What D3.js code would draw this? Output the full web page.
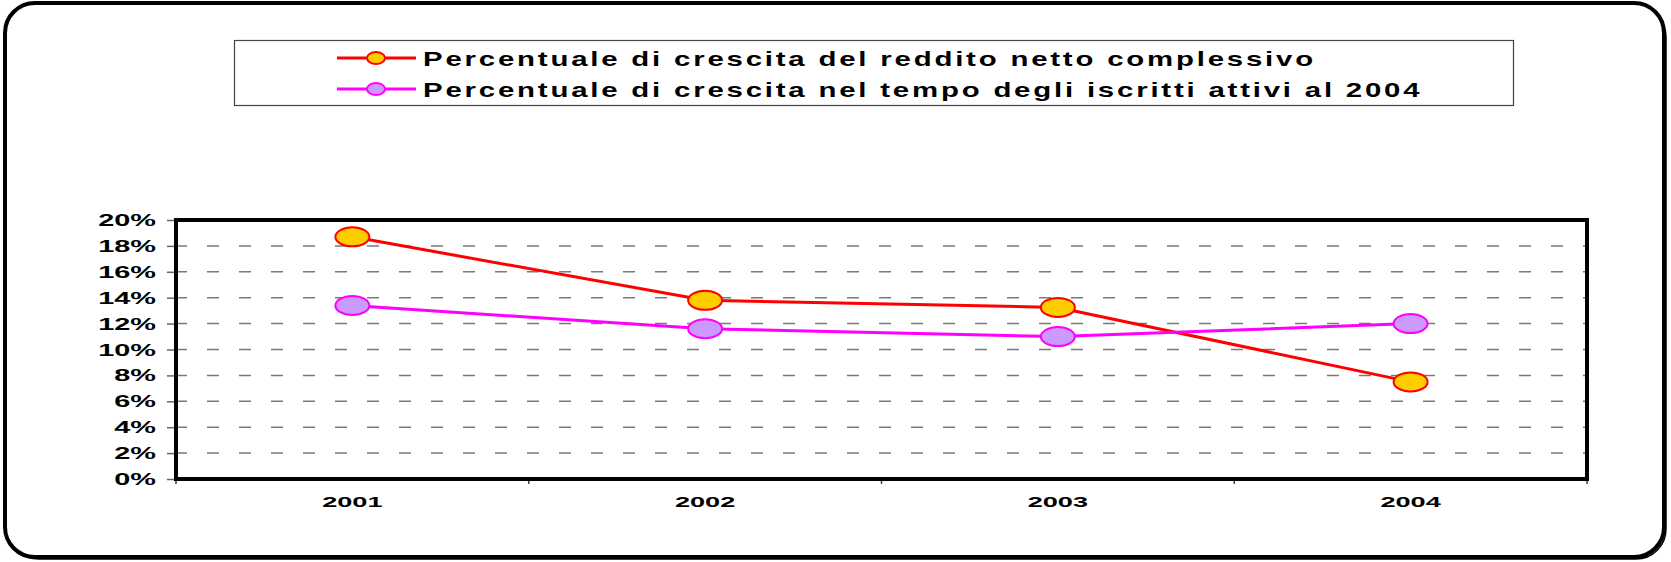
<!DOCTYPE html>
<html>
<head>
<meta charset="utf-8">
<script src="https://cdn.jsdelivr.net/npm/d3@7"></script>
<style>
  body { margin: 0; background: #fff; }
  text { font-family: "Liberation Sans", Arial, sans-serif; font-weight: bold; fill: #000; }
</style>
</head>
<body>
<svg id="chart" width="1671" height="562"></svg>
<script>
// DATA
var years = ['2001', '2002', '2003', '2004'];
var reddito = [18.7, 13.8, 13.25, 7.5];
var iscritti = [13.4, 11.6, 11.0, 12.0];
var yTicks = [0, 2, 4, 6, 8, 10, 12, 14, 16, 18, 20];
var seriesNames = ['Percentuale di crescita del reddito netto complessivo',
                   'Percentuale di crescita nel tempo degli iscritti attivi al 2004'];

// GLOBAL VARIABLES
var width = 1671;
var height = 562;
var stretch = 1.75;   // the original picture is stretched horizontally
var svg = d3.select('#chart');

var plot = { left: 176, top: 220, right: 1587, bottom: 479 };

var xScale = d3.scaleBand().domain(years).range([plot.left, plot.right]);
var yScale = d3.scaleLinear().domain([0, 20]).range([plot.bottom, plot.top]);

var series = [
  { name: seriesNames[0], values: reddito, line: '#ff0000', fill: '#ffcc00' },
  { name: seriesNames[1], values: iscritti, line: '#ff00ff', fill: '#cc99ff' }
];

// OUTER FRAME (with small shadow)
svg.append('rect')
  .attr('x', 9).attr('y', 7)
  .attr('width', width - 14).attr('height', height - 10)
  .attr('rx', 30).attr('ry', 30)
  .style('fill', 'none').style('stroke', '#000').style('stroke-width', 1.5);
svg.append('rect')
  .attr('x', 5).attr('y', 3)
  .attr('width', width - 12).attr('height', height - 8)
  .attr('rx', 30).attr('ry', 30)
  .style('fill', '#fff').style('stroke', '#000').style('stroke-width', 4);

// LEGEND
var legend = svg.append('g');
legend.append('rect')
  .attr('x', 234.5).attr('y', 40.5)
  .attr('width', 1279).attr('height', 65)
  .style('fill', '#fff').style('stroke', '#444').style('stroke-width', 1.2);

series.forEach(function(s, i) {
  var ly = 58 + i * 31;
  legend.append('line')
    .attr('x1', 337).attr('x2', 416)
    .attr('y1', ly).attr('y2', ly)
    .style('stroke', s.line).style('stroke-width', 3);
  legend.append('ellipse')
    .attr('cx', 376).attr('cy', ly)
    .attr('rx', 9).attr('ry', 6)
    .style('fill', s.fill).style('stroke', s.line).style('stroke-width', 2);
  legend.append('text')
    .text(s.name)
    .attr('transform', 'translate(423,' + (ly + 7.5) + ') scale(1.4,1)')
    .style('font-size', '21px')
    .style('letter-spacing', '2px');
});

// GRIDLINES
svg.append('g')
  .selectAll('line')
  .data(yTicks.filter(function(d) { return d > 0 && d < 20; }))
  .enter().append('line')
  .attr('x1', plot.left - 1).attr('x2', plot.right - 2)
  .attr('y1', function(d) { return yScale(d); })
  .attr('y2', function(d) { return yScale(d); })
  .style('stroke', '#7a7a7a').style('stroke-width', 1.5)
  .style('stroke-dasharray', '12,20');

// Y AXIS
var yAxis = d3.axisLeft(yScale).tickValues(yTicks).tickSize(9).tickFormat(function(d) { return ''; });
var yAxisG = svg.append('g')
  .attr('transform', 'translate(' + plot.left + ',0)')
  .call(yAxis);
yAxisG.select('.domain').remove();
yAxisG.selectAll('.tick line').style('stroke', '#666').style('stroke-width', 1.5);

svg.append('g')
  .selectAll('text')
  .data(yTicks)
  .enter().append('text')
  .text(function(d) { return d + '%'; })
  .attr('transform', function(d) {
    return 'translate(156,' + (yScale(d) + 6) + ') scale(' + stretch + ',1)';
  })
  .attr('text-anchor', 'end')
  .style('font-size', '16.5px');

// X AXIS (ticks at category boundaries)
var bounds = years.map(function(d) { return xScale(d); }).concat([plot.right]);
svg.append('g')
  .selectAll('line')
  .data(bounds)
  .enter().append('line')
  .attr('x1', function(d) { return d; }).attr('x2', function(d) { return d; })
  .attr('y1', plot.bottom).attr('y2', plot.bottom + 5)
  .style('stroke', '#444').style('stroke-width', 1.5);

svg.append('g')
  .selectAll('text')
  .data(years)
  .enter().append('text')
  .text(function(d) { return d; })
  .attr('transform', function(d) {
    return 'translate(' + (xScale(d) + xScale.bandwidth() / 2) + ',507) scale(' + stretch + ',1)';
  })
  .attr('text-anchor', 'middle')
  .style('font-size', '15.5px');

// PLOT AREA BORDER
svg.append('rect')
  .attr('x', plot.left).attr('y', plot.top)
  .attr('width', plot.right - plot.left).attr('height', plot.bottom - plot.top)
  .style('fill', 'none').style('stroke', '#000').style('stroke-width', 4);

// LINES AND MARKERS
var line = d3.line()
  .x(function(d, i) { return xScale(years[i]) + xScale.bandwidth() / 2; })
  .y(function(d) { return yScale(d); });

series.forEach(function(s) {
  svg.append('path')
    .datum(s.values)
    .attr('d', line)
    .style('fill', 'none').style('stroke', s.line).style('stroke-width', 3);
});

series.forEach(function(s) {
  svg.append('g')
    .selectAll('ellipse')
    .data(s.values)
    .enter().append('ellipse')
    .attr('cx', function(d, i) { return xScale(years[i]) + xScale.bandwidth() / 2; })
    .attr('cy', function(d) { return yScale(d); })
    .attr('rx', 17).attr('ry', 9.5)
    .style('fill', s.fill).style('stroke', s.line).style('stroke-width', 2);
});
</script>
</body>
</html>
